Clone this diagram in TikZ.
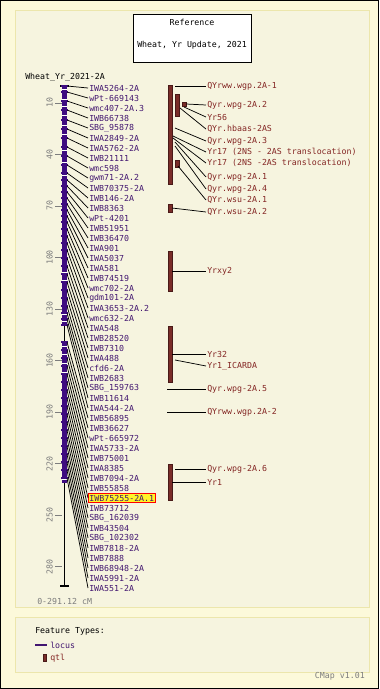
\documentclass[tikz,border=0pt]{standalone}
\usepackage{fontspec}
\setmonofont{DejaVu Sans Mono}
\newcommand{\cmapfont}{\fontsize{6.2}{7}\selectfont\ttfamily}
\definecolor{outerbg}{RGB}{252,249,218}
\definecolor{panelbg}{RGB}{246,244,223}
\definecolor{panelline}{RGB}{236,230,172}
\definecolor{chromfill}{RGB}{62,12,128}
\definecolor{locustext}{RGB}{66,22,112}
\definecolor{qtlfill}{RGB}{122,44,40}
\definecolor{qtltext}{RGB}{132,38,36}
\definecolor{scalegray}{RGB}{125,125,125}
\definecolor{hitfill}{RGB}{255,245,40}
\tikzset{
	txt/.style = {font = \cmapfont, inner sep = 0.75pt},
	marker/.style = {txt, anchor = west, text = locustext},
	mk42/.style = {fill = hitfill, draw = red, line width = 0.7pt},
	qtllab/.style = {txt, anchor = west, text = qtltext},
	scalelab/.style = {txt, text = scalegray, rotate = 90},
	mline/.style = {black, line width = 0.55pt},
	qtlbar/.style = {fill = qtlfill, draw = qtlfill!60!black, line width = 0.4pt},
	chromline/.style = {black, line width = 1.1pt},
	bartick/.style = {chromfill, line width = 0.9pt},
	panel/.style = {fill = panelbg, draw = panelline, line width = 0.9pt}
}
\begin{document}
\begin{tikzpicture}[x = 0.75pt, y = -0.75pt]
	\useasboundingbox (0,0) rectangle (379,689);
	\draw[fill = outerbg, line width = 0.75pt] (0.5,0.5) rectangle (378.5,688.5);
	\draw[panel] (15.5,10.5) rectangle (369.5,607.5);
	\draw[panel] (15.5,617.5) rectangle (369.5,672.5);
	% title
	\draw[fill = white, line width = 0.75pt] (133,14) rectangle (251,62);
	\node[txt] (ref) at (192,22) {Reference};
	\node[txt] (refname) at (192,45) {Wheat, Yr Update, 2021};
	\node[txt, anchor = west] (mapname) at (24,77) {Wheat\_Yr\_2021-2A};
	% chromosome
	\draw[chromline] (64.5,86) -- (64.5,586);
	\draw[chromline] (60,86) -- (69,86);
	\draw[chromline] (60,586) -- (69,586);
	\fill[chromfill] (62,86) rectangle (67,326);
	\fill[chromfill] (62,341) rectangle (67,483);
	\foreach \w in {89,99,106,115,125,134,150,162,175,272,280,289,297,305,314,321,346,354,363,372,389,405,421,437,453,469,479}
		\draw[white, line width = 0.35pt] (62,\w) -- (67,\w);
	\foreach \c in {10,40,...,280} {
		\draw[scalegray, line width = 0.6pt] (55,{85.8+1.717*\c}) -- (62,{85.8+1.717*\c});
		\node[scalelab] (s\c) at (49.5,{85.8+1.717*\c}) {\c};
	}
	\node[txt, anchor = west, text = scalegray] (range) at (36,601) {0-291.12 cM};
	% loci
	\foreach \p/\t [count = \i] in {86/IWA5264-2A, 92/wPt-669143, 101/wmc407-2A.3, 110/IWB66738, 120/SBG\_95878,
		129/IWA2849-2A, 138/IWA5762-2A, 147/IWB21111, 156/wmc598, 165/gwm71-2A.2, 173/IWB70375-2A,
		180/IWB146-2A, 186/IWB8363, 192/wPt-4201, 198/IWB51951, 204/IWB36470, 210/IWA901, 216/IWA5037,
		222/IWA581, 229/IWB74519, 236/wmc702-2A, 243/gdm101-2A, 250/IWA3653-2A.2, 258/wmc632-2A,
		266/IWA548, 274/IWB28520, 282/IWB7310, 290/IWA488, 298/cfd6-2A, 306/IWB2683, 313/SBG\_159763,
		319/IWB11614, 325/IWA544-2A, 342/IWB56895, 350/IWB36627, 358/wPt-665972, 366/IWA5733-2A,
		374/IWB75001, 382/IWA8385, 390/IWB7094-2A, 398/IWB55858, 406/IWB75255-2A.1, 414/IWB73712,
		422/SBG\_162039, 430/IWB43504, 438/SBG\_102302, 446/IWB7818-2A, 454/IWB7888, 462/IWB68948-2A,
		470/IWA5991-2A, 478/IWA551-2A} {
		\draw[bartick] (61,\p) -- (68,\p);
		\coordinate (p\i) at (67,\p);
		\node[marker, mk\i/.try] (m\i) at (88,78+10*\i) {\t};
		\draw[mline] (p\i) -- (m\i.west);
	}
	% qtl
	\draw[qtlbar] (168,85) rectangle (172,184);
	\draw[qtlbar] (175,94) rectangle (179,116);
	\draw[qtlbar] (182,102) rectangle (186,106);
	\draw[qtlbar] (175,160) rectangle (179,167);
	\draw[qtlbar] (168,204) rectangle (172,212);
	\draw[qtlbar] (168,251) rectangle (172,291);
	\draw[qtlbar] (168,326) rectangle (172,382);
	\draw[qtlbar] (168,464) rectangle (172,500);
	\foreach \x/\y/\ly/\t [count = \j] in {175/86/86/QYrww.wgp.2A-1, 186/104/105/Qyr.wpg-2A.2, 184/107/117/Yr56,
		180/108/129/QYr.hbaas-2AS, 175/128/141/Qyr.wpg-2A.3, 173/136/152/Yr17 (2NS - 2AS translocation),
		173/138/163/Yr17 (2NS -2AS translocation), 175/142/177/Qyr.wpg-2A.1, 175/146/189/Qyr.wpg-2A.4,
		178/166/200/QYr.wsu-2A.1, 172/208/212/QYr.wsu-2A.2, 172/271/271/Yrxy2, 172/354/354/Yr32,
		175/360/366/Yr1\_ICARDA, 167/389/389/Qyr.wpg-2A.5, 167/412/412/QYrww.wgp.2A-2,
		175/469/469/Qyr.wpg-2A.6, 172/482/482/Yr1} {
		\coordinate (c\j) at (\x,\y);
		\node[qtllab] (q\j) at (206,\ly) {\t};
		\draw[mline] (c\j) -- (q\j.west);
	}
	% legend
	\node[txt, anchor = west] (ftypes) at (34,631) {Feature Types:};
	\draw[locustext, line width = 0.8pt] (35,645) -- (47,645);
	\node[txt, anchor = west, text = locustext] (locus) at (49,645) {locus};
	\draw[qtlbar] (43,654) rectangle (46,661);
	\node[txt, anchor = west, text = qtltext] (qtl) at (49,658) {qtl};
	\node[txt, anchor = east, text = scalegray] (version) at (366,676) {CMap v1.01};
\end{tikzpicture}
\end{document}
